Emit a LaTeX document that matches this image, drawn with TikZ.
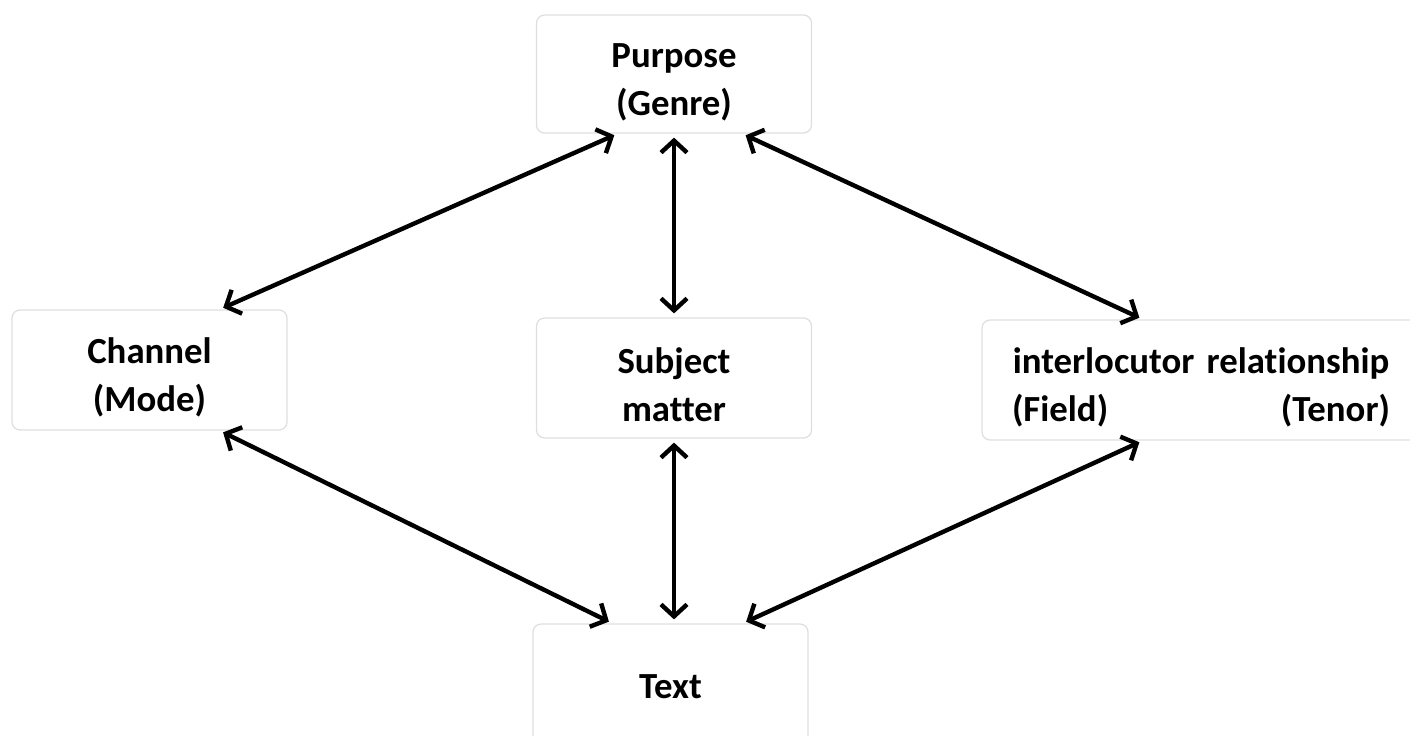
\documentclass[tikz,border=0pt]{standalone}
\usepackage{fontspec}
\setmainfont{Carlito}[Ligatures=NoCommon]
\usetikzlibrary{arrows.meta}

\begin{document}
\begin{tikzpicture}[x=0.5pt, y=-0.5pt]
        \tikzstyle{every node} = [font=\fontsize{18.4}{24}\selectfont\bfseries]
        \tikzstyle{cut} = [draw=black!13, line width=0.6pt, rounded corners=4pt, inner sep=0pt, align=center,
                minimum height=60pt, minimum width=137.5pt]
        \tikzstyle{sag} = [{Straight Barb[length=6pt, width=13pt]}-{Straight Barb[length=6pt, width=13pt]},
                line width=2.2pt, shorten <=2pt, shorten >=2pt]

        \useasboundingbox (0,0) rectangle (1410,735);

        \def\cola{149.5}
        \def\colb{674}
        \def\colc{1201}
        \def\jos{\rule{0pt}{20pt}}

        \node[cut, minimum height=59pt] (pur) at (\colb,74) {\jos Purpose\\(Genre)};
        \node[cut] (can) at (\cola,370) {\jos Channel\\(Mode)};
        \node[cut] (sub) at (\colb,378) {\jos Subject\\matter};
        \node[cut, minimum width=219pt, text width=189pt] (int) at (\colc,380)
            {\jos\mbox{interlocutor relationship}\\(Field)\hfill(Tenor)};
        \node[cut, minimum height=63pt] (txt) at (670.5,687) {Text};

        \draw[sag] ([xshift=-28pt]pur.south) -- ([xshift=35pt]can.north);
        \draw[sag] (pur.south -| sub.north) -- (sub.north);
        \draw[sag] ([xshift=34pt]pur.south) -- ([xshift=-29pt]int.north);

        \draw[sag] ([xshift=35pt]can.south) -- ([xshift=-29pt]txt.north);
        \draw[sag] (sub.south) -- (sub.south |- txt.north);
        \draw[sag] ([xshift=-29pt]int.south) -- ([xshift=36pt]txt.north);
    \end{tikzpicture}
\end{document}
